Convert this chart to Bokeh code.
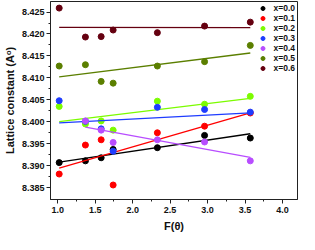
import numpy as np
from bokeh.plotting import figure
from bokeh.models import FixedTicker, Range1d, Legend, LegendItem, CustomJSTickFormatter
from bokeh.embed import file_html
from bokeh.resources import INLINE

# F(theta) values
f_theta = [1.02, 1.37, 1.58, 1.74, 2.33, 2.96, 3.57]

series_names = ["x=0.0", "x=0.1", "x=0.2", "x=0.3", "x=0.4", "x=0.5", "x=0.6"]
colors = ["#000000", "#FF0000", "#7CFC00", "#1E3CFF", "#B84DFF", "#5B7F00", "#650010"]

lc_x00 = [8.3907, 8.3911, 8.3918, 8.3937, 8.3941, 8.3969, 8.3963]
lc_x01 = [8.3881, 8.3947, 8.3959, 8.3856, 8.3975, 8.3990, 8.4020]
lc_x02 = [8.4035, 8.3995, 8.4002, 8.3981, 8.4047, 8.4040, 8.4058]
lc_x03 = [8.4048, 8.4001, 8.3984, 8.3933, 8.4033, 8.4028, 8.4022]
lc_x04 = [None, 8.4002, 8.3981, 8.3953, 8.3959, 8.3954, 8.3911]
lc_x05 = [8.4127, 8.4130, 8.4092, 8.4088, 8.4127, 8.4137, 8.4174]
lc_x06 = [8.4259, 8.4193, 8.4194, 8.4209, 8.4203, 8.4218, 8.4227]

all_series = [lc_x00, lc_x01, lc_x02, lc_x03, lc_x04, lc_x05, lc_x06]

x_ticks = [1.0, 1.5, 2.0, 2.5, 3.0, 3.5, 4.0]
y_ticks = [8.385, 8.390, 8.395, 8.400, 8.405, 8.410, 8.415, 8.420, 8.425]

FONT = "Liberation Sans"

p = figure(width=299, height=234, output_backend="svg", toolbar_location=None,
           x_range=Range1d(0.904, 4.2), y_range=Range1d(8.3823, 8.4274),
           min_border_left=41, min_border_right=2, min_border_top=1, min_border_bottom=31)
p.xgrid.visible = False
p.ygrid.visible = False
p.outline_line_color = "#222222"
p.outline_line_width = 1
p.background_fill_color = "white"

p.xaxis.ticker = FixedTicker(ticks=x_ticks, minor_ticks=[t + 0.25 for t in [0.75] + x_ticks])
p.yaxis.ticker = FixedTicker(ticks=y_ticks, minor_ticks=[t + 0.0025 for t in [8.3825] + y_ticks])
p.yaxis.formatter = CustomJSTickFormatter(code="return tick.toFixed(3);")
p.xaxis.formatter = CustomJSTickFormatter(code="return tick.toFixed(1);")

for ax in (p.xaxis, p.yaxis):
    ax.major_tick_in = 0
    ax.major_tick_out = 4
    ax.minor_tick_in = 0
    ax.minor_tick_out = 2
    ax.axis_line_color = "#222222"
    ax.major_tick_line_color = "#222222"
    ax.minor_tick_line_color = "#222222"
    ax.major_label_text_font = FONT
    ax.major_label_text_font_style = "bold"
    ax.major_label_text_font_size = "9px"
    ax.major_label_text_color = "#111111"
    ax.axis_label_text_font = FONT
    ax.axis_label_text_font_style = "bold"
    ax.axis_label_text_font_size = "11px"
    ax.axis_label_text_color = "#111111"

p.xaxis.axis_label = "F(θ)"
p.yaxis.axis_label = "Lattice constant (Aᵒ)"
p.xaxis.major_label_standoff = 3
p.yaxis.major_label_standoff = 2
p.xaxis.axis_label_standoff = 4
p.yaxis.axis_label_standoff = 3

items = []
for name, col, ys in zip(series_names, colors, all_series):
    xs = [x for x, y in zip(f_theta, ys) if y is not None]
    yv = [y for y in ys if y is not None]
    k, b = np.polyfit(xs, yv, 1)
    lx = [xs[0], xs[-1]]
    p.line(lx, [k * v + b for v in lx], line_color=col, line_width=1.3)
    r = p.scatter(xs, yv, size=6, fill_color=col, line_color=col)
    items.append(LegendItem(label=name, renderers=[r]))

legend = Legend(items=items, location="top_right")
legend.label_text_font = FONT
legend.label_text_font_style = "bold"
legend.label_text_font_size = "8.5px"
legend.label_text_color = "#111111"
legend.glyph_width = 10
legend.glyph_height = 10
legend.label_height = 10
legend.label_standoff = 6
legend.spacing = 0
legend.padding = 2
legend.margin = 2
legend.border_line_color = None
legend.background_fill_alpha = 0
p.add_layout(legend)

open("out.html", "w").write(file_html(p, INLINE))
